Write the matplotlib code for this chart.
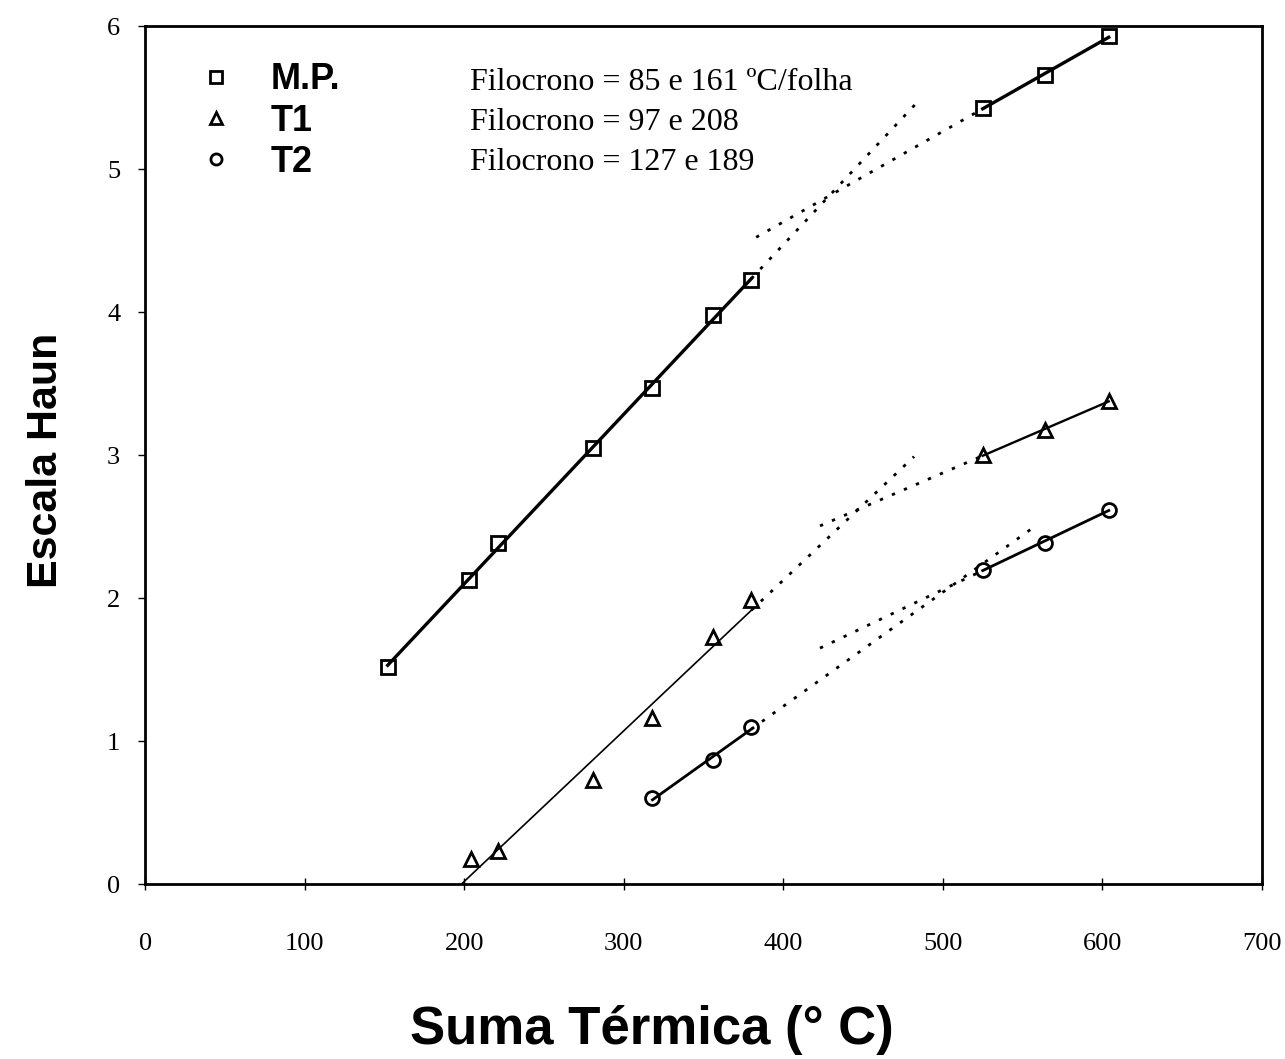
import matplotlib
matplotlib.use('Agg')
import matplotlib.pyplot as plt
import numpy as np

# datos (suma termica, escala Haun)
suma_mp = [152, 203, 221, 281, 318, 356, 380, 525, 564, 604]
haun_mp = [1.52, 2.13, 2.39, 3.05, 3.47, 3.98, 4.23, 5.43, 5.66, 5.93]
suma_t1 = [204, 221, 281, 318, 356, 380, 525, 564, 604]
haun_t1 = [0.18, 0.23, 0.73, 1.16, 1.73, 1.99, 3.00, 3.18, 3.38]
suma_t2 = [318, 356, 380, 525, 564, 604]
haun_t2 = [0.60, 0.87, 1.10, 2.20, 2.39, 2.62]

n_fase1 = {'M.P.': 7, 'T1': 6, 'T2': 3}          # puntos de la primera fase
ext_fase1 = {'M.P.': 484, 'T1': 482, 'T2': 555}  # extension punteada fase 1
ext_fase2 = {'M.P.': 383, 'T1': 423, 'T2': 423}  # extension punteada fase 2
inicio_t1 = 194                                  # recta T1 hasta el eje

filocrono = ['Filocrono = 85 e 161 ºC/folha',
             'Filocrono = 97 e 208',
             'Filocrono = 127 e 189']

series = [('M.P.', suma_mp, haun_mp, 's', 2.4, 2.4),
          ('T1', suma_t1, haun_t1, '^', 1.2, 1.7),
          ('T2', suma_t2, haun_t2, 'o', 2.0, 2.0)]

plt.rcParams['font.family'] = 'Liberation Serif'

fig = plt.figure(figsize=(12.85, 10.59), dpi=100)
ax = fig.add_axes([0.113, 0.165, 0.869, 0.81])

dots = (0, (1.2, 3.5))
for nombre, x, y, mk, lw1, lw2 in series:
    x = np.array(x, float)
    y = np.array(y, float)
    n = n_fase1[nombre]
    # fase 1
    b1, a1 = np.polyfit(x[:n], y[:n], 1)
    x0 = inicio_t1 if nombre == 'T1' else x[0]
    xs = np.array([x0, x[n - 1]])
    ax.plot(xs, a1 + b1 * xs, color='black', lw=lw1)
    xd = np.array([x[n - 1], ext_fase1[nombre]])
    ax.plot(xd, a1 + b1 * xd, color='black', lw=2.0, linestyle=dots)
    # fase 2
    b2, a2 = np.polyfit(x[n:], y[n:], 1)
    xs = np.array([x[n], x[-1]])
    ax.plot(xs, a2 + b2 * xs, color='black', lw=lw2)
    xd = np.array([ext_fase2[nombre], x[n]])
    ax.plot(xd, a2 + b2 * xd, color='black', lw=2.0, linestyle=dots)
    # puntos
    ax.plot(x, y, linestyle='none', marker=mk, ms=10, mfc='none',
            mec='black', mew=2.0, label=nombre)

ax.set_xlim(0, 700)
ax.set_ylim(0, 6)
ax.set_xticks(range(0, 701, 100))
ax.set_yticks(range(0, 7))
ax.tick_params(axis='x', direction='inout', length=8, width=1, pad=31, labelsize=19)
ax.tick_params(axis='y', direction='out', length=5, width=1, pad=13, labelsize=19)
for s in ax.spines.values():
    s.set_linewidth(2.0)

ax.set_xlabel('Suma Térmica (° C)', family='Liberation Sans', fontweight='bold',
              fontsize=38)
ax.xaxis.set_label_coords(0.454, -0.170)
ax.xaxis.label.set_va('center')
ax.set_ylabel('Escala Haun', family='Liberation Sans', fontweight='bold',
              fontsize=31)
ax.yaxis.set_label_coords(-0.071, 0.494)

leg = ax.legend(loc='upper left', bbox_to_anchor=(0.041, 0.975), frameon=False,
                prop={'family': 'Liberation Sans', 'weight': 'bold', 'size': 26},
                handlelength=0.6, handletextpad=1.2, labelspacing=0.17,
                markerscale=0.8, borderaxespad=0)

for i, t in enumerate(filocrono):
    ax.text(0.291, 0.935 - 0.0466 * i, t, transform=ax.transAxes, fontsize=23,
            va='center', ha='left')

fig.savefig('out.png', dpi=100)
